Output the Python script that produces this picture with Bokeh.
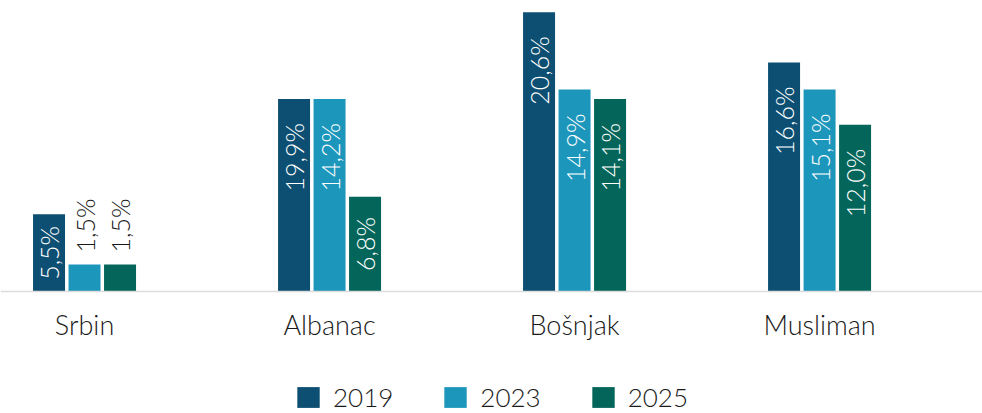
import numpy as np
from bokeh.plotting import figure
from bokeh.models import ColumnDataSource, Range1d, Legend, LegendItem, Span
from bokeh.core.properties import value
from bokeh.embed import file_html
from bokeh.resources import INLINE

# ---- data ----
categories = ["Srbin", "Albanac", "Bošnjak", "Musliman"]
years = ["2019", "2023", "2025"]
# bar heights as drawn (%)
heights_2019 = [5.7, 14.2, 20.6, 16.9]
heights_2023 = [2.0, 14.2, 14.9, 14.9]
heights_2025 = [2.0, 7.0, 14.2, 12.3]
# value labels printed on the bars
labels_2019 = ["5,5%", "19,9%", "20,6%", "16,6%"]
labels_2023 = ["1,5%", "14,2%", "14,9%", "15,1%"]
labels_2025 = ["1,5%", "6,8%", "14,1%", "12,0%"]

colors = ["#0C4F72", "#1D96BC", "#04665A"]
FONT = "Lato Light"
TEXT_COLOR = "#1a1a1a"

heights = [heights_2019, heights_2023, heights_2025]
labels = [labels_2019, labels_2023, labels_2025]

# ---- layout constants ----
W, H = 982, 413
STEP = 0.1449      # distance between bar centres in a group (x units)
BAR_W = 0.1306
cat_x = np.arange(len(categories), dtype=float)

p = figure(width=W, height=H, output_backend="svg", toolbar_location=None,
           x_range=Range1d(-0.343, 3.665), y_range=Range1d(-9.004, 21.476),
           min_border_left=0, min_border_right=0, min_border_top=0,
           min_border_bottom=0)
p.outline_line_color = None
p.xgrid.visible = False
p.ygrid.visible = False
p.xaxis.visible = False
p.yaxis.visible = False
p.background_fill_color = "white"
p.border_fill_color = "white"

base = Span(location=0, dimension="width", line_color="#dcdcdc", line_width=1.5)
p.add_layout(base)

top_in = dict(x=[], y=[], t=[])
mid_in = dict(x=[], y=[], t=[])
above = dict(x=[], y=[], t=[])
renderers = []
for j, yr in enumerate(years):
    xs = cat_x + (j - 1) * STEP
    src = ColumnDataSource(dict(x=xs, top=heights[j]))
    r = p.vbar(x="x", top="top", bottom=0, width=BAR_W, source=src,
               fill_color=colors[j], line_color=None)
    renderers.append(r)
    for xi, h, t in zip(xs, heights[j], labels[j]):
        if h >= 8:
            top_in["x"].append(xi); top_in["y"].append(h); top_in["t"].append(t)
        elif h >= 3:
            mid_in["x"].append(xi); mid_in["y"].append(h / 2); mid_in["t"].append(t)
        else:
            above["x"].append(xi); above["y"].append(h); above["t"].append(t)

common = dict(angle=np.pi / 2, text_baseline="middle",
              text_font=value(FONT), text_font_size="25px")
p.text(x="x", y="y", text="t", source=ColumnDataSource(top_in),
       text_align="right", y_offset=24, text_color="white", **common)
p.text(x="x", y="y", text="t", source=ColumnDataSource(mid_in),
       text_align="center", text_color="white", **common)
p.text(x="x", y="y", text="t", source=ColumnDataSource(above),
       text_align="left", y_offset=-12, text_color=TEXT_COLOR, **common)

# category labels under the baseline
p.text(x=cat_x, y=np.zeros(len(categories)), text=categories,
       text_align="center", text_baseline="middle", y_offset=33,
       text_color=TEXT_COLOR, text_font=value(FONT), text_font_size="27px")

legend = Legend(items=[LegendItem(label=yr, renderers=[r]) for yr, r in zip(years, renderers)],
                orientation="horizontal", location="bottom_center",
                glyph_width=28, glyph_height=26, label_standoff=11, spacing=48,
                padding=0, margin=0, border_line_color=None, background_fill_alpha=0,
                label_text_font=FONT, label_text_font_size="26px",
                label_text_color=TEXT_COLOR)
p.add_layout(legend, "center")

open("out.html", "w").write(file_html(p, INLINE))
